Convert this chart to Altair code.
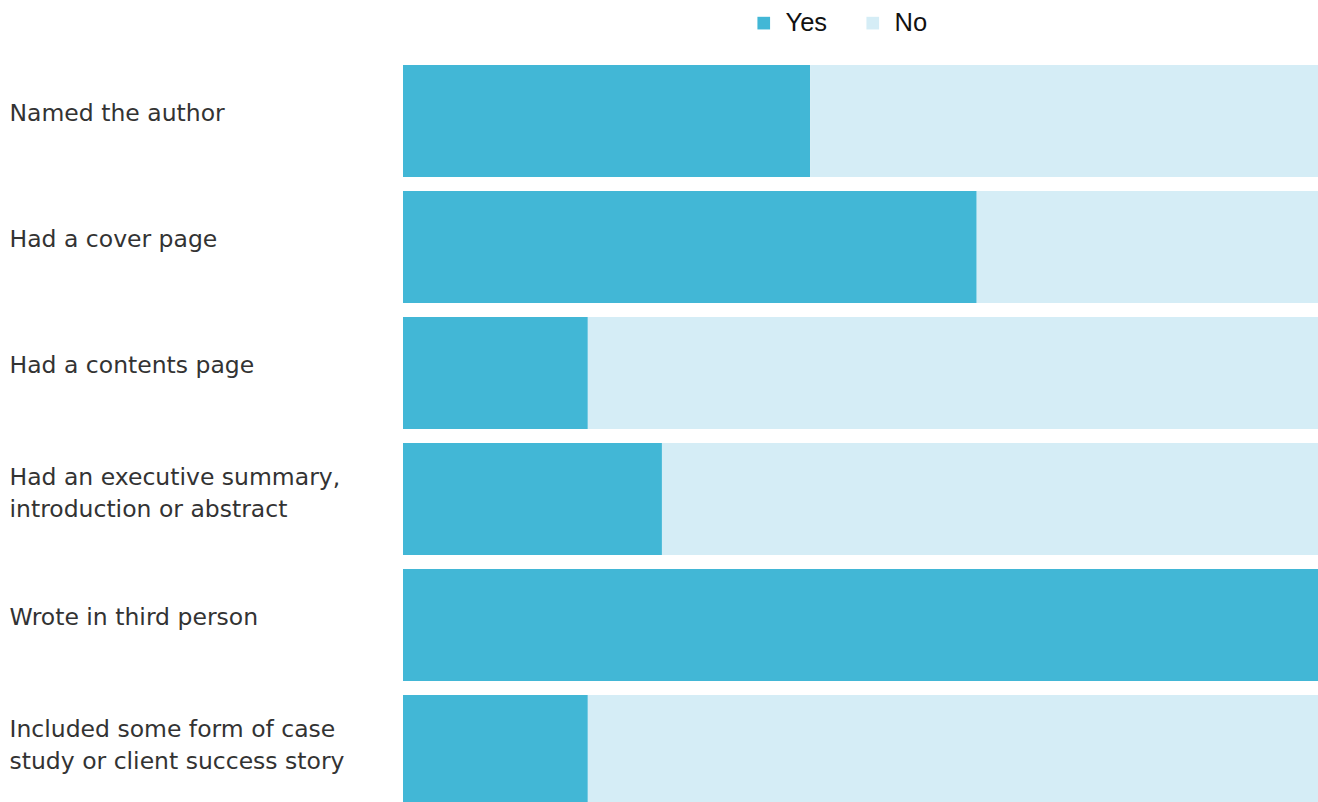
import altair as alt
import pandas as pd

categories = [
    "Named the author",
    "Had a cover page",
    "Had a contents page",
    "Had an executive summary,|introduction or abstract",
    "Wrote in third person",
    "Included some form of case|study or client success story",
]
yes_pct = [44.5, 62.7, 20.2, 28.3, 100.0, 20.2]
no_pct = [100 - v for v in yes_pct]
answers = ["Yes", "No"]
colors = ["#42b7d6", "#d5edf6"]

rows = []
for c, y, n in zip(categories, yes_pct, no_pct):
    rows.append({"category": c, "answer": "Yes", "value": y, "ord": 0})
    rows.append({"category": c, "answer": "No", "value": n, "ord": 1})
df = pd.DataFrame(rows)

chart = alt.Chart(df).mark_bar().encode(
    y=alt.Y("category:N", sort=categories,
            scale=alt.Scale(paddingInner=0.111, paddingOuter=0),
            axis=alt.Axis(title=None, domain=False, ticks=False, grid=False,
                          labelAlign="left", labelPadding=394, labelFontSize=23.5,
                          labelFont="DejaVu Sans", labelColor="#333333",
                          labelLimit=400, labelLineHeight=32,
                          labelOffset={"condition": {"test": "indexof(datum.value, '|') >= 0", "value": -21},
                                       "value": -7},
                          labelExpr="split(datum.label, '|')")),
    x=alt.X("value:Q", stack="zero", scale=alt.Scale(domain=[0, 100], nice=False),
            axis=None),
    color=alt.Color("answer:N", scale=alt.Scale(domain=answers, range=colors),
                    legend=alt.Legend(title=None, orient="none", direction="horizontal",
                                      legendX=348, legendY=-55, symbolType="square",
                                      symbolSize=160, symbolStrokeWidth=0,
                                      labelFontSize=25.5, labelFont="Liberation Sans",
                                      labelColor="#111111", columnPadding=32,
                                      labelOffset=9, padding=0)),
    order=alt.Order("ord:Q"),
).properties(
    width=915, height=742,
    autosize=alt.AutoSizeParams(type="none"),
    padding={"left": 403, "top": 65, "right": 0, "bottom": 0},
).configure_view(stroke=None)

chart.save("out.html", embed_options={"renderer": "svg", "actions": False})
